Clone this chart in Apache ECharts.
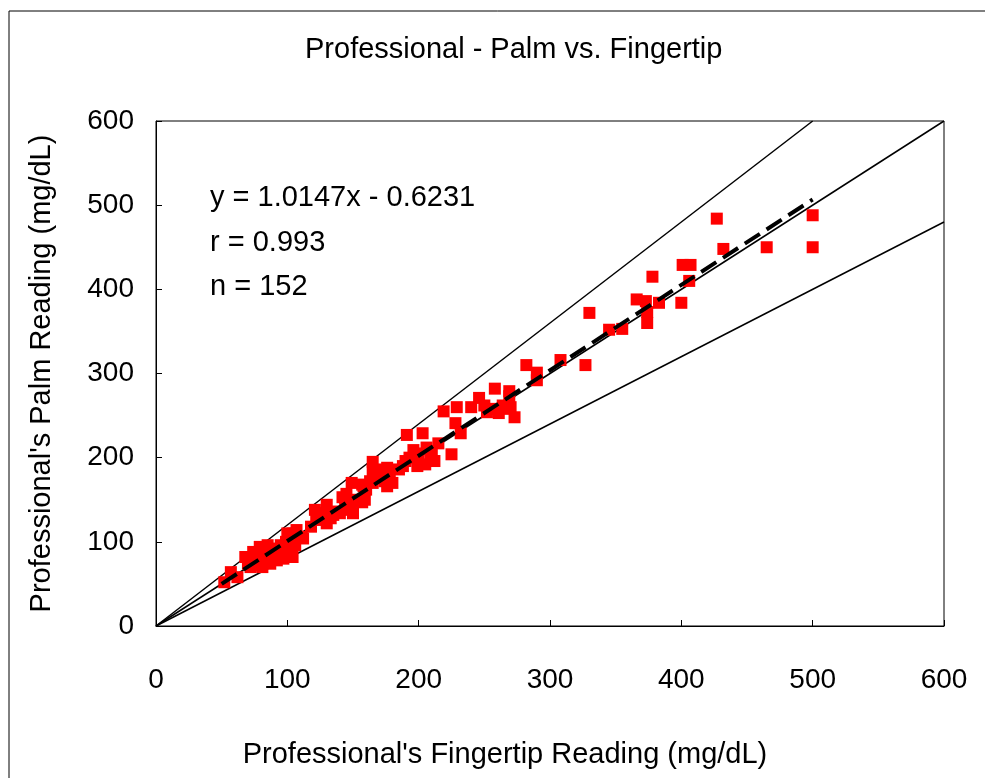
<!DOCTYPE html>
<html>
<head>
<meta charset="utf-8">
<script src="https://cdn.jsdelivr.net/npm/echarts@6/dist/echarts.min.js"></script>
<style>
  html, body { margin: 0; padding: 0; background: #fff; }
  #chart { width: 985px; height: 778px; }
</style>
</head>
<body>
<div id="chart"></div>
<script>
// Paired glucose readings: [fingertip, palm] in mg/dL
const readings = [
  [52,52],[57,64],[62,58],[68,82],[70,74],[72,70],[74,88],[75,80],[77,76],[78,72],
  [79,94],[80,84],[81,70],[82,78],[84,90],[85,96],[86,82],[87,74],[88,86],[90,80],
  [91,92],[92,90],[92,78],[94,84],[95,96],[96,88],[97,80],[98,92],[99,100],[100,110],
  [100,86],[101,94],[102,90],[103,99],[104,110],[104,82],[106,96],[107,114],[111,106],[112,104],
  [118,118],[121,138],[122,126],[124,130],[127,134],[130,144],[130,122],[133,128],[135,132],[138,136],
  [140,134],[142,153],[144,140],[145,157],[148,146],[148,138],[149,170],[150,134],[152,150],[155,148],
  [157,147],[157,168],[158,166],[159,150],[160,162],[163,172],[165,170],[165,195],[165,185],[166,178],
  [168,176],[170,180],[172,186],[174,172],[176,188],[176,178],[176,166],[178,182],[180,170],
  [185,186],[188,190],[190,196],[191,227],[193,200],[196,209],[198,205],[199,190],[200,198],[203,229],
  [205,192],[206,212],[209,200],[210,208],[212,196],[215,217],[219,255],[225,204],[228,241],[229,260],
  [232,229],[240,260],[246,271],[250,262],[252,254],[256,258],[258,282],[261,253],[264,262],[266,258],
  [269,279],[269,273],[270,260],[273,248],
  [282,310],[290,301],[290,292],[308,316],[327,310],[330,372],[345,352],[355,353],[366,388],[373,386],
  [374,373],[374,360],[378,415],[383,384],[400,384],[401,429],[406,410],[407,429],[427,484],[432,448],
  [465,450],[500,488],[500,450]
];

// Least-squares fit reported for the data
const slope = 1.0147;
const intercept = -0.6231;
const fitRange = [50, 500];

// Agreement band: identity line and ±20% lines
const identityLine = [[0, 0], [600, 600]];
const upperLine = [[0, 0], [500, 600]];
const lowerLine = [[0, 0], [600, 480]];

const axisTicks = [0, 100, 200, 300, 400, 500, 600];
const statLines = ['y = 1.0147x - 0.6231', 'r = 0.993', 'n = 152'];

const fitLine = fitRange.map(x => [x, slope * x + intercept]);

const font = 'Liberation Sans, Arial, sans-serif';
const chart = echarts.init(document.getElementById('chart'), null, { renderer: 'canvas' });

const refLine = (data) => ({
  type: 'line', data, symbol: 'none', silent: true,
  lineStyle: { color: '#000', width: 1.5 }, z: 2
});

chart.setOption({
  animation: false,
  backgroundColor: '#fff',
  title: {
    text: 'Professional - Palm vs. Fingertip',
    left: 300, top: 30,
    textStyle: { fontFamily: font, fontSize: 29, fontWeight: 'normal', color: '#000' }
  },
  grid: { left: 156, top: 121, right: 41, bottom: 152, show: true, borderColor: '#000', borderWidth: 1 },
  xAxis: {
    type: 'value', min: axisTicks[0], max: axisTicks[axisTicks.length - 1], interval: 100,
    name: "Professional's Fingertip Reading (mg/dL)",
    nameLocation: 'middle', nameGap: 114,
    nameTextStyle: { fontFamily: font, fontSize: 29, color: '#000', padding: [0, 90, 0, 0] },
    axisLine: { show: true, lineStyle: { color: '#000' } },
    axisTick: { show: true, inside: true, length: 6, lineStyle: { color: '#000' } },
    axisLabel: { fontFamily: font, fontSize: 28, color: '#000', margin: 40 },
    splitLine: { show: false }
  },
  yAxis: {
    type: 'value', min: axisTicks[0], max: axisTicks[axisTicks.length - 1], interval: 100,
    name: "Professional's Palm Reading (mg/dL)",
    nameLocation: 'middle', nameGap: 100,
    nameTextStyle: { fontFamily: font, fontSize: 29, color: '#000' },
    axisLine: { show: true, lineStyle: { color: '#000' } },
    axisTick: { show: true, inside: true, length: 6, lineStyle: { color: '#000' } },
    axisLabel: { fontFamily: font, fontSize: 28, color: '#000', margin: 22 },
    splitLine: { show: false }
  },
  graphic: [
    {
      type: 'rect', silent: true, z: -1,
      shape: { x: 9, y: 11, width: 1000, height: 800 },
      style: { fill: 'none', stroke: '#000', lineWidth: 1 }
    },
    {
      type: 'text', left: 210, top: 176, silent: true,
      style: { text: statLines.join('\n'), font: '29px ' + font, fill: '#000', lineHeight: 44.5 }
    }
  ],
  series: [
    refLine(identityLine),
    refLine(upperLine),
    refLine(lowerLine),
    {
      type: 'scatter', data: readings, symbol: 'rect', symbolSize: 12,
      itemStyle: { color: '#ff0000', opacity: 1 }, z: 3
    },
    {
      type: 'line', data: fitLine, symbol: 'none', silent: true,
      lineStyle: { color: '#000', width: 4, type: [18, 8] }, z: 4
    }
  ]
});
</script>
</body>
</html>
